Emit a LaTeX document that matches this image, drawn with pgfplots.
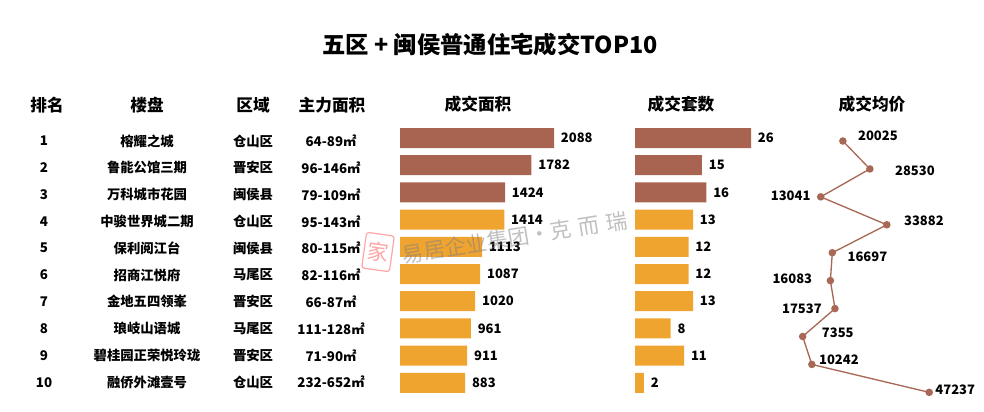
\documentclass[border=0pt]{standalone}
\usepackage{fontspec}
\setmainfont{Noto Sans CJK SC}
\usepackage{pgfplots}
\usepackage{pgfplotstable}
\pgfplotsset{compat=1.18}
\definecolor{brn}{HTML}{A86450}
\definecolor{org}{HTML}{F0A430}
\definecolor{lineC}{HTML}{A86856}

% 成交均价: rank, price
\pgfplotstableread{
rank price
1 20025
2 28530
3 13041
4 33882
5 16697
6 16083
7 17537
8 7355
9 10242
10 47237
}\pricetab

\pgfplotsset{
  barax/.style={
    xbar, bar shift=0pt, bar width=15pt,
    scale only axis, height=204pt, anchor=north west,
    ymin=0.5, ymax=10.5, y dir=reverse, xmin=0,
    axis lines=none, ticks=none, clip=false,
    nodes near coords, point meta=explicit symbolic,
    every node near coord/.append style={anchor=west, inner sep=0pt, xshift=5pt,
      text=black, font=\bfseries\fontsize{9.75}{10}\selectfont},
  },
}

\begin{document}
\begin{tikzpicture}[x=0.75pt,y=-0.75pt]
\path[use as bounding box] (0,0) rectangle (984,411);

% title
\node[font=\bfseries\fontsize{17.5}{18}\selectfont] at (490,45) {五区 + 闽侯普通住宅成交TOP10};

% headers
\begin{scope}[every node/.style={font=\bfseries\fontsize{12.5}{13}\selectfont}]
\node at (47,105) {排名};
\node at (147,105) {楼盘};
\node at (253,105) {区域};
\node at (332,105) {主力面积};
\node at (478,104) {成交面积};
\node at (681,104) {成交套数};
\node at (872,104) {成交均价};
\end{scope}

% table body
\foreach \r/\nm/\dist/\ar in {
  1/榕耀之城/仓山区/64-89㎡,
  2/鲁能公馆三期/晋安区/96-146㎡,
  3/万科城市花园/闽侯县/79-109㎡,
  4/中骏世界城二期/仓山区/95-143㎡,
  5/保利阅江台/闽侯县/80-115㎡,
  6/招商江悦府/马尾区/82-116㎡,
  7/金地五四领峯/晋安区/66-87㎡,
  8/琅岐山语城/马尾区/111-128㎡,
  9/碧桂园正荣悦玲珑/晋安区/71-90㎡,
  10/融侨外滩壹号/仓山区/232-652㎡}{
  \pgfmathsetmacro\yy{141+26.8*(\r-1)}
  \begin{scope}[every node/.style={font=\bfseries\fontsize{10}{11}\selectfont}]
  \node at (44,\yy) {\r};
  \node at (147,\yy) {\nm};
  \node at (253,\yy) {\dist};
  \node at (331,\yy) {\ar};
  \end{scope}
}

% 成交面积
\begin{axis}[barax, at={(300pt,-93.3pt)}, width=115.5pt, xmax=2088]
\addplot[fill=brn, draw=none] coordinates {(2088,1) [2088] (1782,2) [1782] (1424,3) [1424]};
\addplot[fill=org, draw=none] coordinates {(1414,4) [1414] (1113,5) [1113] (1087,6) [1087]
  (1020,7) [1020] (961,8) [961] (911,9) [911] (883,10) [883]};
\end{axis}

% 成交套数
\begin{axis}[barax, at={(476.25pt,-93.3pt)}, width=87pt, xmax=26]
\addplot[fill=brn, draw=none] coordinates {(26,1) [26] (15,2) [15] (16,3) [16]};
\addplot[fill=org, draw=none] coordinates {(13,4) [13] (12,5) [12] (12,6) [12]
  (13,7) [13] (8,8) [8] (11,9) [11] (2,10) [2]};
\end{axis}

% 成交均价
\begin{axis}[at={(584.5pt,-105.75pt)}, anchor=north west, scale only axis,
  width=112.4pt, height=188.5pt, xmin=0, xmax=47237, ymin=1, ymax=10,
  y dir=reverse, axis lines=none, ticks=none, clip=false]
\addplot[color=lineC, line width=1pt, mark=*, mark size=2.3pt,
  mark options={fill=lineC, draw=lineC}]
  table[x=price, y=rank] {\pricetab};
\begin{scope}[every node/.style={inner sep=0pt, text=black, font=\bfseries\fontsize{9.75}{10}\selectfont}]
\node[anchor=west] at ([xshift=11.25pt,yshift=3.75pt]axis cs:20025,1) {20025};
\node[anchor=west] at ([xshift=18.75pt,yshift=-1.1pt]axis cs:28530,2) {28530};
\node[anchor=east] at ([xshift=-7.5pt,yshift=0.75pt]axis cs:13041,3) {13041};
\node[anchor=west] at ([xshift=12.75pt,yshift=3pt]axis cs:33882,4) {33882};
\node[anchor=west] at ([xshift=11.25pt,yshift=-3pt]axis cs:16697,5) {16697};
\node[anchor=east] at ([xshift=-13.5pt,yshift=1.5pt]axis cs:16083,6) {16083};
\node[anchor=east] at ([xshift=-9.75pt]axis cs:17537,7) {17537};
\node[anchor=west] at ([xshift=14.25pt,yshift=3pt]axis cs:7355,8) {7355};
\node[anchor=west] at ([xshift=5.25pt,yshift=3.75pt]axis cs:10242,9) {10242};
\node[anchor=west] at ([xshift=4.5pt,yshift=2.25pt]axis cs:47237,10) {47237};
\end{scope}
\end{axis}

% watermark, laid over the bars as in the reference
\begin{scope}[opacity=0.5]
\node[rotate=9, anchor=west, text=gray, font=\fontsize{16}{16}\selectfont] at (398,256) {易居企业集团·克\,\,而\,\,瑞};
\draw[red!70, line width=0.9pt, rounded corners=2pt, rotate around={-8:(378,252)}] (364,234) rectangle (392,270);
\node[text=red!70, font=\fontsize{16}{16}\selectfont, rotate=-8] at (378,252) {家};
\end{scope}
\end{tikzpicture}
\end{document}
